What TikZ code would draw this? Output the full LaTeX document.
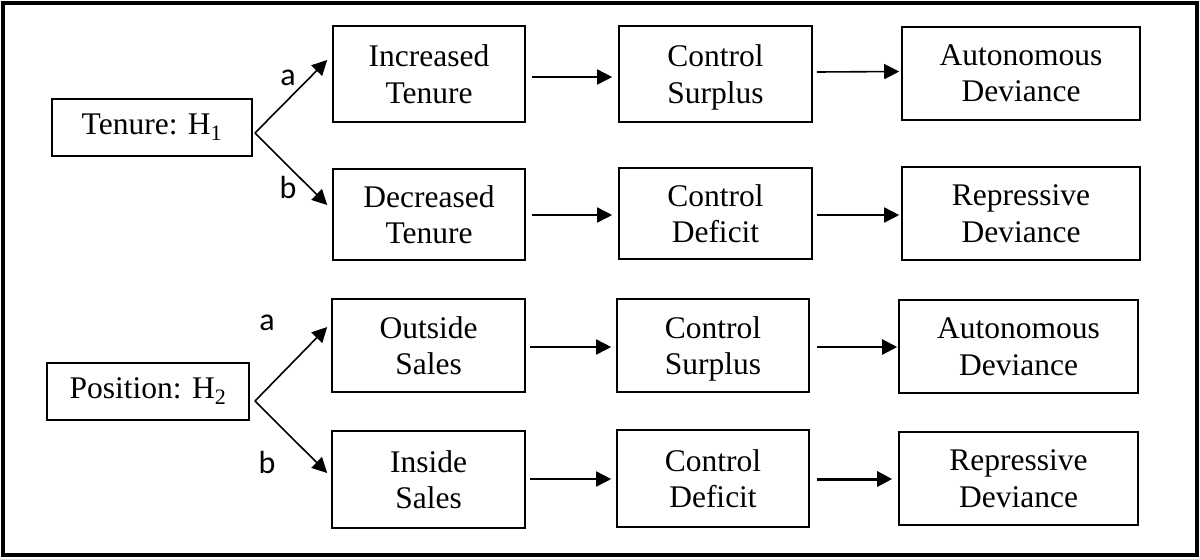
\documentclass[tikz,border=0pt]{standalone}
\usepackage{fontspec}
\setmainfont{Liberation Serif}
\newfontfamily\lblfont{Carlito}
\usetikzlibrary{arrows.meta}
\tikzset{
  box/.style={draw=black, line width=1.6pt, align=center, inner sep=0pt,
    font=\fontsize{31.5}{36.5}\selectfont},
  arr/.style={draw=black, line width=1.6pt, -{Triangle[length=15pt,width=15pt]}},
  lbl/.style={font=\lblfont\fontsize{32}{34}\selectfont, anchor=base, inner sep=0pt}
}
\begin{document}
\begin{tikzpicture}[x=1pt,y=-1pt]
\useasboundingbox (0,0) rectangle (1200,558);
\draw[line width=4.5pt] (3,3) rectangle (1197,555);
% left nodes
\node[box, minimum width=200pt, minimum height=57pt] (T) at (152,127.5) {Tenure: H\textsubscript{1}};
\node[box, minimum width=202pt, minimum height=57pt] (P) at (148,391.5) {Position: H\textsubscript{2}};
% row 1
\node[box, minimum width=192pt, minimum height=96pt] (inc) at (429,74) {Increased\\Tenure};
\node[box, minimum width=193pt, minimum height=96pt] (cs1) at (715.5,74) {Control\\\smash{Surplus}};
\node[box, minimum width=238pt, minimum height=93pt] (ad1) at (1021,73.5) {Autonomous\\Deviance};
% row 2
\node[box, minimum width=192pt, minimum height=91pt] (dec) at (429,214.5) {Decreased\\Tenure};
\node[box, minimum width=193pt, minimum height=91pt] (cd1) at (715.5,213.5) {Control\\Deficit};
\node[box, minimum width=238pt, minimum height=93pt] (rd1) at (1021,213.5) {Repressive\\Deviance};
% row 3
\node[box, minimum width=193pt, minimum height=93pt] (out) at (428.5,345.5) {Outside\\Sales};
\node[box, minimum width=192pt, minimum height=93pt] (cs2) at (713,345.5) {Control\\\smash{Surplus}};
\node[box, minimum width=239pt, minimum height=93pt] (ad2) at (1018.5,346.5) {Autonomous\\Deviance};
% row 4
\node[box, minimum width=193pt, minimum height=97pt] (ins) at (428.5,479.5) {Inside\\Sales};
\node[box, minimum width=192pt, minimum height=97pt] (cd2) at (713,478.5) {Control\\Deficit};
\node[box, minimum width=239pt, minimum height=93pt] (rd2) at (1018.5,478.5) {Repressive\\Deviance};
% forks
\coordinate (f1) at (255,133);
\coordinate (f2) at (255,401);
\draw[arr] (f1) -- ([xshift=-5pt,yshift=14pt]inc.west);
\draw[arr] (f1) -- ([xshift=-5pt,yshift=9.5pt]dec.west);
\draw[arr] (f2) -- ([xshift=-4pt,yshift=18.5pt]out.west);
\draw[arr] (f2) -- ([xshift=-4pt,yshift=6.5pt]ins.west);
\node[lbl] (la1) at (288,85) {a};
\node[lbl] (lb1) at (288,198) {b};
\node[lbl] (la2) at (267,330) {a};
\node[lbl] (lb2) at (267,473) {b};
% horizontal arrows
\draw[arr] ([xshift=6pt,yshift=-3pt]inc.east) -- ([xshift=-6pt,yshift=-3pt]cs1.west);
\draw[arr] ([xshift=4pt,yshift=2pt]cs1.east) -- ([xshift=-2pt,yshift=2pt]ad1.west);
\draw[arr] ([xshift=6pt]dec.east |- 0,215) -- ([xshift=-6pt]cd1.west |- 0,215);
\draw[arr] ([xshift=4pt]cd1.east |- 0,215) -- ([xshift=-2pt]rd1.west |- 0,215);
\draw[arr] ([xshift=4pt]out.east |- 0,347) -- ([xshift=-5pt]cs2.west |- 0,347);
\draw[arr, line width=2.4pt] ([xshift=7pt]cs2.east |- 0,347) -- ([xshift=-1pt]ad2.west |- 0,347);
\draw[arr] ([xshift=4pt]ins.east |- 0,479) -- ([xshift=-5pt]cd2.west |- 0,479);
\draw[arr, line width=3pt] ([xshift=7pt]cd2.east |- 0,479) -- ([xshift=-6pt]rd2.west |- 0,479);
\end{tikzpicture}
\end{document}
